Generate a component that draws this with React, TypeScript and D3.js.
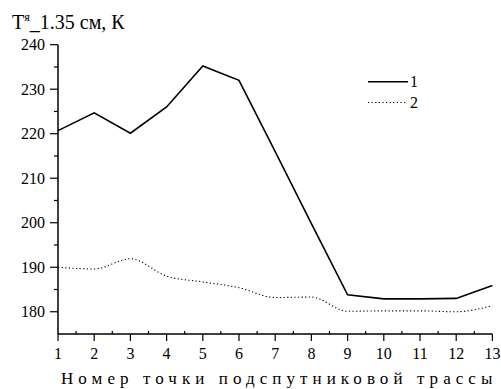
import React from 'react'
import * as d3 from 'd3'

const points = [1, 2, 3, 4, 5, 6, 7, 8, 9, 10, 11, 12, 13]
const series1 = [220.7, 224.7, 220.1, 226.0, 235.2, 232.0, 216.0, 199.8, 183.8, 182.9, 182.9, 183.0, 185.9]
const series2 = [190.0, 189.6, 191.9, 188.0, 186.7, 185.4, 183.2, 183.3, 180.1, 180.2, 180.2, 180.0, 181.4]
const yTicks = [180, 190, 200, 210, 220, 230, 240]
const yMinor = [185, 195, 205, 215, 225, 235]
const xMinor = points.slice(0, -1).map(p => p + 0.5)
const legendLabels = ['1', '2']

const font = "'Liberation Serif', 'Times New Roman', Times, serif"

const App = () => {
    const x = d3.scaleLinear().domain([1, 13]).range([58, 492.4])
    const y = d3.scaleLinear().domain([175, 240]).range([334, 44.7])

    const line = d3.line<number>()
        .x((d, i) => x(points[i]))
        .y(d => y(d))
    const smooth = d3.line<number>()
        .x((d, i) => x(points[i]))
        .y(d => y(d))
        .curve(d3.curveMonotoneX)

    const x0 = x(1)
    const y0 = y(175)
    const txt = { fontFamily: font }

    return (
        <svg width={501} height={389} style={{ position: 'absolute', left: 0, top: 0, background: '#fff', fontFamily: font }}>
            <rect width={501} height={389} fill="#fff" />

            {/* title */}
            <text x={12} y={29} fontSize={20} fill="#000" style={txt}>
                T<tspan dy={-8} fontSize={12}>я</tspan><tspan dy={8}>_1.35 см, К</tspan>
            </text>

            {/* y axis */}
            <line x1={x0} x2={x0} y1={y(240)} y2={y0} stroke="#000" strokeWidth={1.5} />
            {yTicks.map(t => (
                <g key={t}>
                    <line x1={x0 - 8} x2={x0} y1={y(t)} y2={y(t)} stroke="#000" strokeWidth={1.2} />
                    <text x={45} y={y(t)} dy="0.35em" textAnchor="end" fontSize={16} fill="#000" style={txt}>{t}</text>
                </g>
            ))}
            {yMinor.map(t => (
                <line key={t} x1={x0 - 4} x2={x0} y1={y(t)} y2={y(t)} stroke="#000" strokeWidth={1.2} />
            ))}

            {/* x axis */}
            <line x1={x0} x2={x(13)} y1={y0} y2={y0} stroke="#000" strokeWidth={1.5} />
            {points.map(p => (
                <g key={p}>
                    <line x1={x(p)} x2={x(p)} y1={y0} y2={y0 + 7} stroke="#000" strokeWidth={1.2} />
                    <text x={x(p)} y={359} textAnchor="middle" fontSize={16} fill="#000" style={txt}>{p}</text>
                </g>
            ))}
            {xMinor.map(p => (
                <line key={p} x1={x(p)} x2={x(p)} y1={y0 - 3} y2={y0} stroke="#000" strokeWidth={1.2} />
            ))}
            <text x={61} y={384} fontSize={17} fill="#000" style={txt} textLength={x(13) - 61} lengthAdjust="spacing">
                Номер точки подспутниковой трассы
            </text>

            {/* series */}
            <path d={line(series1) || ''} fill="none" stroke="#000" strokeWidth={1.6} />
            <path d={smooth(series2) || ''} fill="none" stroke="#000" strokeWidth={1.1} strokeDasharray="1.2,2.4" />

            {/* legend */}
            <line x1={368} x2={408} y1={81.7} y2={81.7} stroke="#000" strokeWidth={1.6} />
            <text x={410} y={81.7} dy="0.35em" fontSize={16} fill="#000" style={txt}>{legendLabels[0]}</text>
            <line x1={368} x2={406} y1={102.5} y2={102.5} stroke="#000" strokeWidth={1.1} strokeDasharray="1.2,2.4" />
            <text x={410} y={102.5} dy="0.35em" fontSize={16} fill="#000" style={txt}>{legendLabels[1]}</text>
        </svg>
    )
}

export default App
